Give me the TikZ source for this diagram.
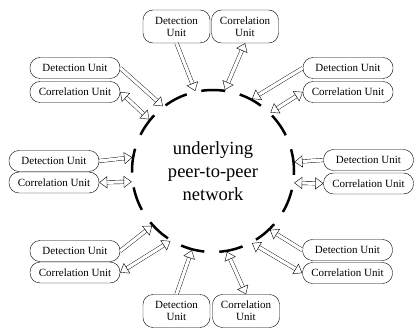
\documentclass[tikz,border=0pt]{standalone}
\usepackage{fontspec}
\setmainfont{Liberation Serif}
\usetikzlibrary{arrows.meta}
\tikzset{>={Triangle[open, length=8pt, width=12pt]}}

\begin{document}
\begin{tikzpicture}[x=1pt, y=1pt,
  unitbox/.style={draw, rounded corners=10pt, minimum width=90pt, minimum height=21pt, inner sep=1pt, font=\fontsize{11}{12}\selectfont},
  tallbox/.style={unitbox, minimum width=67pt, minimum height=33pt, align=center},
  link/.style={double, double distance=3.2pt, thin, ->},
  both/.style={double, double distance=3.2pt, thin, <->}]
\useasboundingbox (0,0) rectangle (414,329);
\coordinate (c) at (213,158);
\node[font=\fontsize{18.5}{23}\selectfont, align=center] (net) at (c) {underlying\\peer-to-peer\\network};
\draw[line width=2.5pt, dash pattern=on 24pt off 15pt, dash phase=2pt] (c) circle (81pt);

% where the arrows meet the ring
\foreach \name/\ang in {td/102.5, tc/81.6, uld/127.7, ulc/141, urd/61.6, urc/45.5,
  mld/170.4, mlc/187.5, mrd/6.3, mrc/-8.3, lld/222, llc/238.7, bd/255, bc/279.8,
  lrd/-46, lrc/-61.6}
  \path (c) ++(\ang:82pt) coordinate (\name);

\node[tallbox] (topdet) at (176.5,302.5) {Detection\\Unit};
\node[tallbox] (topcor) at (245,302.5) {Correlation\\Unit};
\node[unitbox] (uldet) at (75,261) {Detection Unit};
\node[unitbox] (ulcor) at (75,237) {Correlation Unit};
\node[unitbox] (urdet) at (348,261) {Detection Unit};
\node[unitbox] (urcor) at (348,237) {Correlation Unit};
\node[unitbox] (mldet) at (54,168) {Detection Unit};
\node[unitbox] (mlcor) at (54,146.5) {Correlation Unit};
\node[unitbox] (mrdet) at (368.5,169) {Detection Unit};
\node[unitbox] (mrcor) at (368.5,145.5) {Correlation Unit};
\node[unitbox] (lldet) at (75,78) {Detection Unit};
\node[unitbox] (llcor) at (75,56.5) {Correlation Unit};
\node[unitbox] (lrdet) at (347.5,79) {Detection Unit};
\node[unitbox] (lrcor) at (347.5,56) {Correlation Unit};
\node[tallbox] (botdet) at (176.5,18) {Detection\\Unit};
\node[tallbox] (botcor) at (246,18) {Correlation\\Unit};

\draw[link] (topdet.south) -- (td);
\draw[both] (topcor.south) -- (tc);
\draw[link] (uldet.east) -- (uld);
\draw[both] (ulcor.east) -- (ulc);
\draw[link] (urdet.west) -- (urd);
\draw[both] (urcor.west) -- (urc);
\draw[link] (mldet.east) -- (mld);
\draw[both] (mlcor.east) -- (mlc);
\draw[link] (mrdet.west) -- (mrd);
\draw[both] (mrcor.west) -- (mrc);
\draw[link] (lldet.east) -- (lld);
\draw[both] (llcor.east) -- (llc);
\draw[link] (lrdet.west) -- (lrd);
\draw[both] (lrcor.west) -- (lrc);
\draw[link] (botdet.north) -- (bd);
\draw[both] (botcor.north) -- (bc);
\end{tikzpicture}
\end{document}
